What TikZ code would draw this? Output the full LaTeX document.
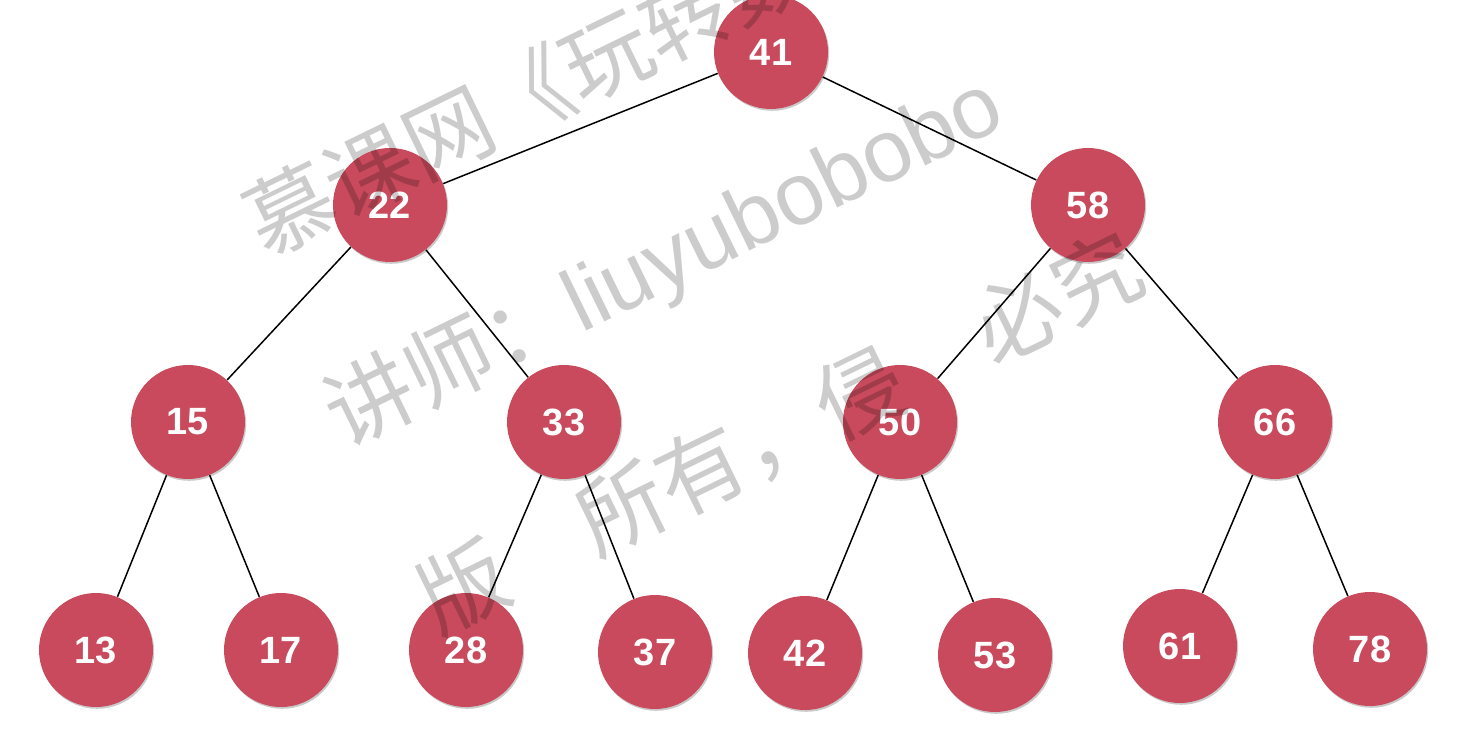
\documentclass[tikz,border=0pt]{standalone}
\usepackage{fontspec}
\setmainfont{Liberation Sans}
\newfontfamily\cjkfont{Noto Sans CJK SC}
\usetikzlibrary{shadows}
\definecolor{nodered}{RGB}{201,74,92}
\tikzset{
  treenode/.style={circle, fill=nodered, minimum size=57pt, inner sep=0pt,
    text=white, font=\fontsize{19}{22}\selectfont\bfseries,
    drop shadow={shadow xshift=0.6pt, shadow yshift=-0.9pt, opacity=0.35, fill=black!60}},
  edge/.style={draw=black, line width=0.75pt},
  watermark/.style={anchor=west, inner sep=0pt, rotate=26, text=black, text opacity=0.2,
    font=\fontsize{44}{48}\selectfont}
}
\begin{document}
\begin{tikzpicture}[x=0.5pt, y=-0.5pt]
\useasboundingbox (0,0) rectangle (1460,731);
\fill[white] (0,0) rectangle (1460,731);
% nodes
\node[treenode] (n41) at (771,52) {41};
\node[treenode] (n22) at (390,205) {22};
\node[treenode] (n58) at (1088,205) {58};
\node[treenode] (n15) at (188,422) {15};
\node[treenode] (n33) at (564,422) {33};
\node[treenode] (n50) at (900,422) {50};
\node[treenode] (n66) at (1275,422) {66};
\node[treenode] (n13) at (96,650) {13};
\node[treenode] (n17) at (281,650) {17};
\node[treenode] (n28) at (466,650) {28};
\node[treenode] (n37) at (655,652) {37};
\node[treenode] (n42) at (805,653) {42};
\node[treenode] (n53) at (995,655) {53};
\node[treenode] (n61) at (1180,646) {61};
\node[treenode] (n78) at (1370,649) {78};
% edges
\draw[edge] (n41) -- (n22);
\draw[edge] (n41) -- (n58);
\draw[edge] (n22) -- (n15);
\draw[edge] (n22) -- (n33);
\draw[edge] (n58) -- (n50);
\draw[edge] (n58) -- (n66);
\draw[edge] (n15) -- (n13);
\draw[edge] (n15) -- (n17);
\draw[edge] (n33) -- (n28);
\draw[edge] (n33) -- (n37);
\draw[edge] (n50) -- (n42);
\draw[edge] (n50) -- (n53);
\draw[edge] (n66) -- (n61);
\draw[edge] (n66) -- (n78);
% watermark
\node[watermark] (wm1) at (250,229) {\cjkfont 慕课网《玩转数据结构》};
\node[watermark] (wm2) at (332,424) {\cjkfont 讲师：\rmfamily liuyubobobo};
\node[watermark] (wm3) at (424,606) {\cjkfont 版　所有，侵　必究};
\end{tikzpicture}
\end{document}
